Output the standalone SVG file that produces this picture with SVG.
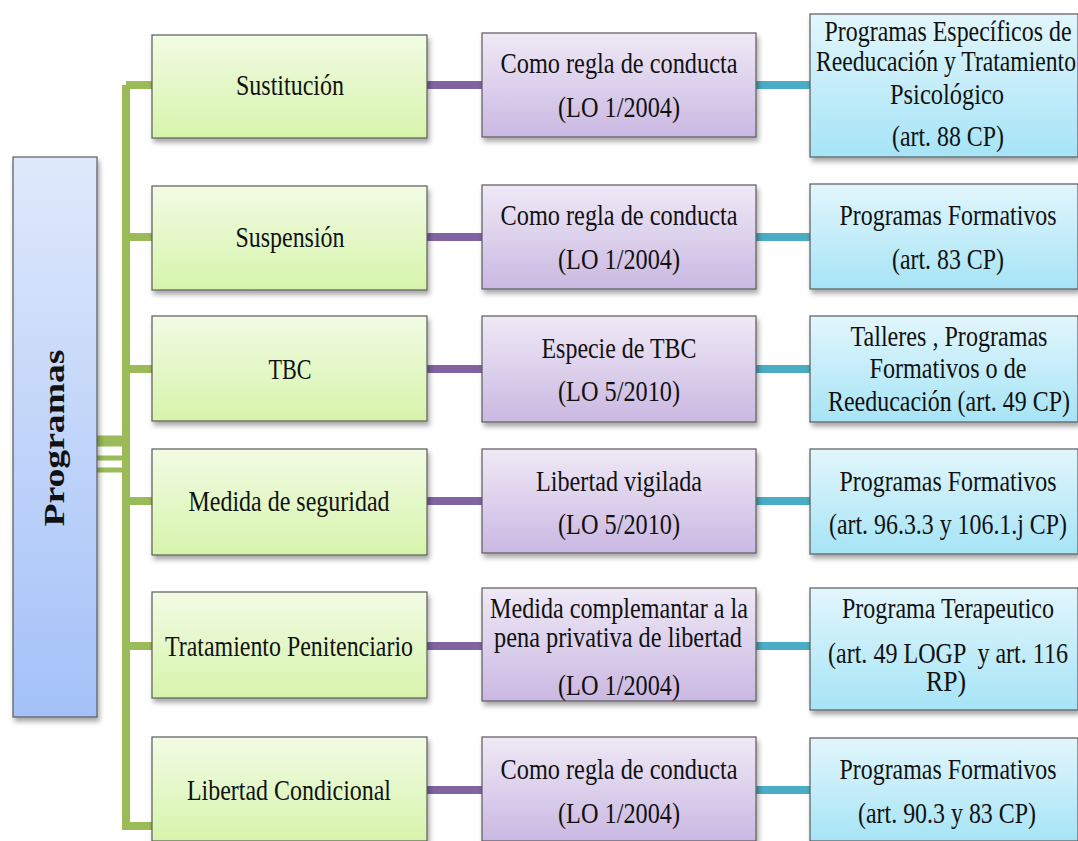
<svg xmlns="http://www.w3.org/2000/svg" width="1078" height="841" viewBox="0 0 1078 841">
<style>
text{font-family:"Liberation Serif","Times New Roman",serif;font-size:29px;fill:#111;text-anchor:middle}
.box{stroke:#5a5a5a;stroke-width:1.2}
.g{fill:url(#gg)}.p{fill:url(#gp)}.b{fill:url(#gb)}.m{fill:url(#gm)}
.cg{stroke:#9bbb59;fill:none}.cp{stroke:#8064a2;stroke-width:8}.cb{stroke:#4bacc6;stroke-width:8}
</style>
<defs>
<linearGradient id="gg" x1="0" y1="0" x2="0" y2="1"><stop offset="0" stop-color="#f2fbe4"/><stop offset="1" stop-color="#d6f4ab"/></linearGradient>
<linearGradient id="gp" x1="0" y1="0" x2="0" y2="1"><stop offset="0" stop-color="#efe9f6"/><stop offset="1" stop-color="#cab8e2"/></linearGradient>
<linearGradient id="gb" x1="0" y1="0" x2="0" y2="1"><stop offset="0" stop-color="#e2f6fc"/><stop offset="1" stop-color="#a6e4f6"/></linearGradient>
<linearGradient id="gm" x1="0" y1="0" x2="0" y2="1"><stop offset="0" stop-color="#dfe9fb"/><stop offset="1" stop-color="#a3c1f8"/></linearGradient>
<filter id="sh" x="-10%" y="-10%" width="130%" height="130%"><feDropShadow dx="2" dy="4" stdDeviation="2.5" flood-color="#000" flood-opacity="0.35"/></filter>
</defs>
<g id="connectors">
<path class="cg" stroke-width="8" d="M126 85 V826 H152"/>
<path class="cg" stroke-width="8" d="M126 85 H152 M126 237 H152 M126 369 H152 M126 501 H152 M126 646 H152"/>
<path class="cg" stroke-width="11" d="M97 441 H126"/>
<path class="cg" stroke-width="5" d="M97 458 H126 M97 470 H126"/>
<path class="cp" d="M427 85 H482 M427 237 H482 M427 369 H482 M427 501 H482 M427 646 H482 M427 790 H482"/>
<path class="cb" d="M756 85 H810 M756 237 H810 M756 369 H810 M756 501 H810 M756 646 H810 M756 790 H810"/>
</g>
<g id="programas"><rect class="box m" x="13" y="157" width="84" height="560" filter="url(#sh)"/><text transform="translate(64 438) rotate(-90)" style="font-weight:bold;font-size:30px" textLength="177" lengthAdjust="spacingAndGlyphs">Programas</text></g>
<g id="sustitucion"><rect class="box g" x="152" y="35" width="275" height="103" filter="url(#sh)"/><text x="290" y="95" textLength="108" lengthAdjust="spacingAndGlyphs">Sustitución</text></g>
<g id="suspension"><rect class="box g" x="152" y="186" width="275" height="104" filter="url(#sh)"/><text x="290" y="247" textLength="109" lengthAdjust="spacingAndGlyphs">Suspensión</text></g>
<g id="tbc"><rect class="box g" x="152" y="316" width="275" height="105" filter="url(#sh)"/><text x="290" y="379" textLength="43" lengthAdjust="spacingAndGlyphs">TBC</text></g>
<g id="medida"><rect class="box g" x="152" y="449" width="275" height="106" filter="url(#sh)"/><text x="289" y="511" textLength="201" lengthAdjust="spacingAndGlyphs">Medida de seguridad</text></g>
<g id="tratamiento"><rect class="box g" x="152" y="592" width="275" height="106" filter="url(#sh)"/><text x="289" y="656" textLength="248" lengthAdjust="spacingAndGlyphs">Tratamiento Penitenciario</text></g>
<g id="libertad"><rect class="box g" x="152" y="737" width="275" height="104" filter="url(#sh)"/><text x="289" y="800" textLength="204" lengthAdjust="spacingAndGlyphs">Libertad Condicional</text></g>
<g id="p1"><rect class="box p" x="482" y="33" width="274" height="104" filter="url(#sh)"/><text x="619" y="73" textLength="237" lengthAdjust="spacingAndGlyphs">Como regla de conducta</text><text x="619" y="117" textLength="122" lengthAdjust="spacingAndGlyphs">(LO 1/2004)</text></g>
<g id="p2"><rect class="box p" x="482" y="185" width="274" height="104" filter="url(#sh)"/><text x="619" y="225" textLength="237" lengthAdjust="spacingAndGlyphs">Como regla de conducta</text><text x="619" y="269" textLength="122" lengthAdjust="spacingAndGlyphs">(LO 1/2004)</text></g>
<g id="p3"><rect class="box p" x="482" y="316" width="274" height="106" filter="url(#sh)"/><text x="619" y="358" textLength="155" lengthAdjust="spacingAndGlyphs">Especie de TBC</text><text x="619" y="401" textLength="122" lengthAdjust="spacingAndGlyphs">(LO 5/2010)</text></g>
<g id="p4"><rect class="box p" x="482" y="449" width="274" height="104" filter="url(#sh)"/><text x="619" y="491" textLength="166" lengthAdjust="spacingAndGlyphs">Libertad vigilada</text><text x="619" y="534" textLength="122" lengthAdjust="spacingAndGlyphs">(LO 5/2010)</text></g>
<g id="p5"><rect class="box p" x="482" y="588" width="274" height="113" filter="url(#sh)"/><text x="619" y="618" textLength="258" lengthAdjust="spacingAndGlyphs">Medida complemantar a la</text><text x="618" y="647" textLength="248" lengthAdjust="spacingAndGlyphs">pena privativa de libertad</text><text x="619" y="695" textLength="122" lengthAdjust="spacingAndGlyphs">(LO 1/2004)</text></g>
<g id="p6"><rect class="box p" x="482" y="737" width="274" height="104" filter="url(#sh)"/><text x="619" y="779" textLength="237" lengthAdjust="spacingAndGlyphs">Como regla de conducta</text><text x="619" y="823" textLength="122" lengthAdjust="spacingAndGlyphs">(LO 1/2004)</text></g>
<g id="b1"><rect class="box b" x="810" y="14" width="268" height="143" filter="url(#sh)"/><text x="948" y="41" textLength="247" lengthAdjust="spacingAndGlyphs">Programas Específicos de</text><text x="946" y="71" textLength="260" lengthAdjust="spacingAndGlyphs">Reeducación y Tratamiento</text><text x="947" y="104" textLength="114" lengthAdjust="spacingAndGlyphs">Psicológico</text><text x="948" y="146" textLength="112" lengthAdjust="spacingAndGlyphs">(art. 88 CP)</text></g>
<g id="b2"><rect class="box b" x="810" y="184" width="268" height="105" filter="url(#sh)"/><text x="948" y="225" textLength="217" lengthAdjust="spacingAndGlyphs">Programas Formativos</text><text x="948" y="269" textLength="112" lengthAdjust="spacingAndGlyphs">(art. 83 CP)</text></g>
<g id="b3"><rect class="box b" x="810" y="316" width="268" height="106" filter="url(#sh)"/><text x="949" y="346" textLength="197" lengthAdjust="spacingAndGlyphs">Talleres , Programas</text><text x="948" y="378" textLength="157" lengthAdjust="spacingAndGlyphs">Formativos o de</text><text x="949" y="411" textLength="242" lengthAdjust="spacingAndGlyphs">Reeducación (art. 49 CP)</text></g>
<g id="b4"><rect class="box b" x="810" y="449" width="268" height="105" filter="url(#sh)"/><text x="948" y="491" textLength="217" lengthAdjust="spacingAndGlyphs">Programas Formativos</text><text x="948" y="534" textLength="238" lengthAdjust="spacingAndGlyphs">(art. 96.3.3 y 106.1.j CP)</text></g>
<g id="b5"><rect class="box b" x="810" y="588" width="268" height="122" filter="url(#sh)"/><text x="948" y="618" textLength="212" lengthAdjust="spacingAndGlyphs">Programa Terapeutico</text><text x="948" y="663" textLength="240" lengthAdjust="spacingAndGlyphs" xml:space="preserve">(art. 49 LOGP  y art. 116</text><text x="946" y="691" textLength="40" lengthAdjust="spacingAndGlyphs">RP)</text></g>
<g id="b6"><rect class="box b" x="810" y="738" width="268" height="103" filter="url(#sh)"/><text x="948" y="779" textLength="217" lengthAdjust="spacingAndGlyphs">Programas Formativos</text><text x="947" y="823" textLength="178" lengthAdjust="spacingAndGlyphs">(art. 90.3 y 83 CP)</text></g>
</svg>
